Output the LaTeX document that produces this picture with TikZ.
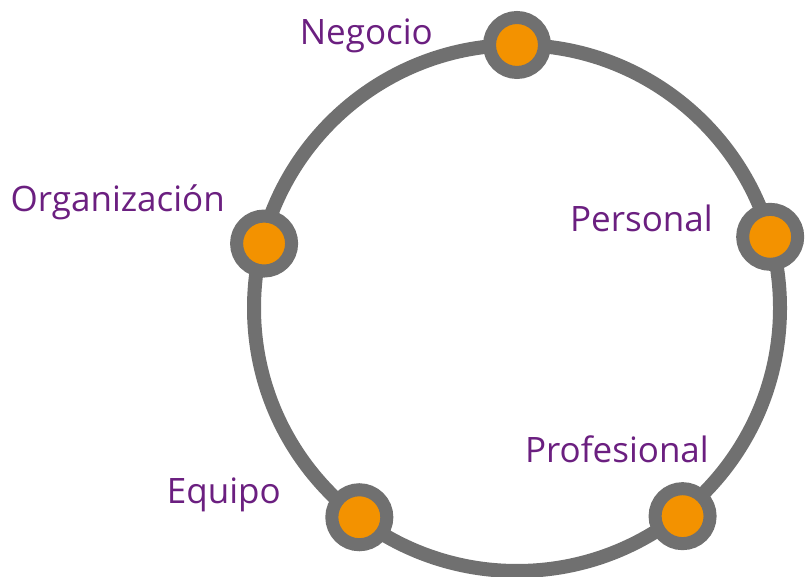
\documentclass[tikz,border=0pt]{standalone}
\usepackage{fontspec}
\setmainfont{Open Sans}
\usetikzlibrary{positioning}
\definecolor{gris}{HTML}{707070}
\definecolor{naranja}{HTML}{F39200}
\definecolor{morado}{HTML}{6B1F80}

\begin{document}
\begin{tikzpicture}[x=1pt,y=1pt,
  punto/.style={draw=gris,circle,fill=naranja,line width=13pt,minimum size=55pt,inner sep=0pt},
  etiqueta/.style={morado,font=\fontsize{35}{42}\selectfont,inner sep=0pt,anchor=base east}]
  \useasboundingbox (0,0) rectangle (805,577);
  \coordinate (centro) at (517,269);
  \draw[gris,line width=14pt] (centro) circle (263);
  % puntos sobre el circulo
  \node[punto] (negocio) at ([shift=(90:263)]centro) {};
  \node[punto] (personal) at ([shift=(15.7:263)]centro) {};
  \node[punto] (profesional) at ([shift=(-51.5:266)]centro) {};
  \node[punto] (equipo) at ([shift=(-127:262)]centro) {};
  \node[punto] (organizacion) at ([shift=(165.7:261)]centro) {};
  % textos
  \node[etiqueta] (negocioText) at (433,532) {Negocio};
  \node[etiqueta] (personalText) at (713,345) {Personal};
  \node[etiqueta] (profesionalText) at (709,114) {Profesional};
  \node[etiqueta] (equipoText) at (281,73) {Equipo};
  \node[etiqueta] (organizacionText) at (225,365) {Organización};
\end{tikzpicture}
\end{document}
